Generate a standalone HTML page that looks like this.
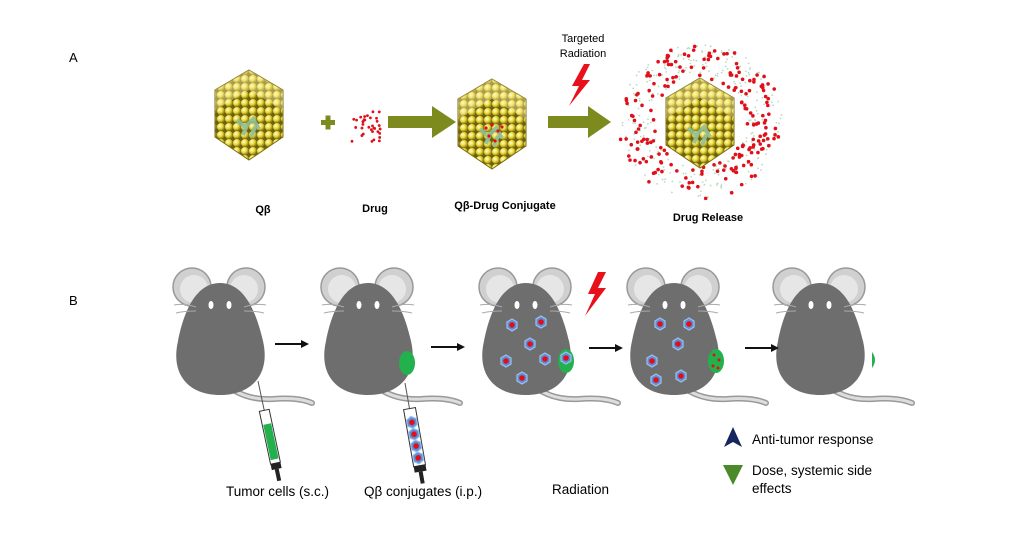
<!DOCTYPE html>
<html><head><meta charset="utf-8"><style>
html,body{margin:0;padding:0;background:#fff;}
svg{display:block;font-family:"Liberation Sans","DejaVu Sans",sans-serif;}
</style></head><body>
<svg id="s" width="1024" height="538" viewBox="0 0 1024 538" xmlns="http://www.w3.org/2000/svg">
<defs>
<radialGradient id="ball" cx="35%" cy="35%" r="65%"><stop offset="0" stop-color="#fffbd0"/><stop offset="0.5" stop-color="#eedd40"/><stop offset="1" stop-color="#8a7a10"/></radialGradient>
<pattern id="balls" width="8" height="8" patternUnits="userSpaceOnUse"><rect width="8" height="8" fill="#6b5f10"/><circle cx="4" cy="4" r="4" fill="url(#ball)"/></pattern>
<g id="virus">
<polygon points="0,-45 34,-25 34,22 0,45 -34,22 -34,-25" fill="url(#balls)" stroke="#7a6d10" stroke-width="1"/>
<polygon points="0,-45 34,-25 34,-5 0,-25 -34,-5 -34,-25" fill="#fff6b0" opacity="0.4"/>
<path d="M-12,5 L-4,12 L4,4 L10,14 M-6,20 L-2,10 M2,22 L6,12" stroke="#8fbf9a" stroke-width="4" fill="none" opacity="0.9"/>
</g>
<g id="mouse">
<path d="M40,95 Q60,120 95,118 Q120,116 134,122" stroke="#999" stroke-width="6" fill="none" stroke-linecap="round"/>
<path d="M40,95 Q60,120 95,118 Q120,116 134,122" stroke="#ddd" stroke-width="3" fill="none" stroke-linecap="round"/>
<circle cx="14" cy="6" r="19" fill="#d0d0d0" stroke="#999" stroke-width="1.5"/>
<circle cx="16" cy="8" r="14" fill="#e6e6e6"/>
<circle cx="68" cy="6" r="19" fill="#d0d0d0" stroke="#999" stroke-width="1.5"/>
<circle cx="66" cy="8" r="14" fill="#e6e6e6"/>
<path d="M42,2 C66,2 78,30 85,60 C93,95 72,114 42,114 C12,114 -8,95 0,60 C6,30 18,2 42,2 Z" fill="#6e6e6e"/>
<ellipse cx="33" cy="24" rx="2.5" ry="4" fill="#fff"/><ellipse cx="51" cy="24" rx="2.5" ry="4" fill="#fff"/>
<path d="M18,26 Q6,22 -4,24 M18,30 Q6,30 -2,32 M66,26 Q78,22 88,24 M66,30 Q78,30 86,32" stroke="#aaa" stroke-width="1" fill="none"/>
</g>
<g id="qb"><polygon points="0,-6 5,-3 5,3 0,6 -5,3 -5,-3" fill="#5b8fd6" stroke="#9cc0ee" stroke-width="1.2"/><circle cx="0" cy="0" r="2.8" fill="#e0101a"/></g>
<g id="arr"><line x1="0" y1="0" x2="28" y2="0" stroke="#111" stroke-width="2"/><polygon points="26,-4 34,0 26,4" fill="#111"/></g>
</defs>

<text x="69" y="62" font-size="13">A</text>
<text x="69" y="305" font-size="13">B</text>

<use href="#virus" x="249" y="115"/>
<rect x="321" y="120" width="14" height="5" fill="#7d8a1e"/><rect x="325.5" y="115.5" width="5" height="14" fill="#7d8a1e"/>
<g id="drug"></g>
<polygon points="388,116 432,116 432,106 456,122 432,138 432,128 388,128" fill="#7d8a1e"/>
<use href="#virus" x="492" y="124"/>
<g fill="#e0101a"><circle cx="486" cy="128" r="1.6"/><circle cx="492" cy="125" r="1.6"/><circle cx="498" cy="131" r="1.6"/><circle cx="489" cy="136" r="1.6"/><circle cx="495" cy="141" r="1.6"/><circle cx="502" cy="127" r="1.6"/></g>
<polygon points="548,116 588,116 588,106 611,122 588,138 588,128 548,128" fill="#7d8a1e"/>
<polygon points="584,64 572,86 579,86 569,106 590,80 582,80 590,64" fill="#e8101a"/>
<text x="583" y="42" font-size="11" text-anchor="middle">Targeted</text>
<text x="583" y="57" font-size="11" text-anchor="middle">Radiation</text>
<g id="cloud"></g>
<use href="#virus" x="700" y="123"/>

<g font-size="11" font-weight="bold" text-anchor="middle">
<text x="263" y="213">Qβ</text><text x="375" y="212">Drug</text><text x="505" y="209">Qβ-Drug Conjugate</text><text x="708" y="221">Drug Release</text>
</g>

<use href="#mouse" x="178" y="281"/>
<use href="#mouse" x="326" y="281"/>
<use href="#mouse" x="484" y="281"/>
<use href="#mouse" x="632" y="281"/>
<use href="#mouse" x="778" y="281"/>

<use href="#arr" x="275" y="344"/>
<use href="#arr" x="431" y="347"/>
<use href="#arr" x="589" y="348"/>
<use href="#arr" x="745" y="348"/>

<g transform="translate(258,381) rotate(-12)">
<line x1="0" y1="0" x2="0" y2="30" stroke="#555" stroke-width="1"/>
<rect x="-5" y="30" width="10" height="54" fill="#fff" stroke="#333" stroke-width="1"/>
<rect x="-4" y="44" width="8" height="36" fill="#22b14c"/>
<rect x="-5" y="84" width="10" height="6" fill="#222"/><rect x="-2" y="90" width="4" height="12" fill="#222"/>
</g>
<g transform="translate(405,383) rotate(-10)">
<line x1="0" y1="0" x2="0" y2="26" stroke="#555" stroke-width="1"/>
<rect x="-6" y="26" width="12" height="58" fill="#fff" stroke="#333" stroke-width="1"/>
<use href="#qb" x="0" y="40"/><use href="#qb" x="0" y="52"/><use href="#qb" x="0" y="64"/><use href="#qb" x="0" y="76"/>
<rect x="-6" y="84" width="12" height="6" fill="#222"/><rect x="-2" y="90" width="4" height="12" fill="#222"/>
</g>
<ellipse cx="407" cy="363" rx="8" ry="12" fill="#22b14c"/>

<polygon points="598,272 588,294 595,294 585,316 606,288 598,288 606,272" fill="#e8101a"/>
<use href="#qb" x="512" y="325"/><use href="#qb" x="530" y="344"/><use href="#qb" x="506" y="361"/><use href="#qb" x="545" y="359"/><use href="#qb" x="522" y="378"/><use href="#qb" x="541" y="322"/>
<ellipse cx="566" cy="361" rx="8" ry="12" fill="#22b14c"/><use href="#qb" x="566" y="358"/>

<use href="#qb" x="660" y="324"/><use href="#qb" x="689" y="324"/><use href="#qb" x="678" y="344"/><use href="#qb" x="652" y="361"/><use href="#qb" x="681" y="376"/><use href="#qb" x="656" y="380"/>
<ellipse cx="716" cy="361" rx="8" ry="12" fill="#22b14c"/>
<g fill="#e0101a"><circle cx="714" cy="355" r="1.5"/><circle cx="719" cy="360" r="1.5"/><circle cx="713" cy="366" r="1.5"/><circle cx="718" cy="368" r="1.5"/></g>
<path d="M872,352 Q878,360 872,368 Z" fill="#22b14c"/>

<g font-size="13.5">
<text x="226" y="496">Tumor cells (s.c.)</text>
<text x="364" y="496">Qβ conjugates (i.p.)</text>
<text x="552" y="494">Radiation</text>
<text x="752" y="444">Anti-tumor response</text>
<text x="752" y="475">Dose, systemic side</text>
<text x="752" y="493">effects</text>
</g>
<polygon points="733,427 742,447 733,442 724,447" fill="#15275e"/>
<polygon points="723,465 743,465 733,485" fill="#4a8a2a"/>

<script>
(function(){
var ns="http://www.w3.org/2000/svg";var seed=7;function r(){seed=(seed*16807)%2147483647;return seed/2147483647;}
function dot(g,x,y,rr,c){var e=document.createElementNS(ns,"circle");e.setAttribute("cx",x);e.setAttribute("cy",y);e.setAttribute("r",rr);e.setAttribute("fill",c);g.appendChild(e);}
var d=document.getElementById("drug");for(var i=0;i<34;i++)dot(d,352+r()*30,110+r()*34,1.4,"#e0101a");
var c=document.getElementById("cloud");
for(var i=0;i<260;i++){var a=r()*6.283,rad=48+r()*34;dot(c,700+Math.cos(a)*rad*1.0,122+Math.sin(a)*rad*0.95,0.9,"#b8dcc0");}
for(var i=0;i<200;i++){var a=r()*6.283,rad=46+r()*36;dot(c,700+Math.cos(a)*rad*1.0,122+Math.sin(a)*rad*0.95,1.8,"#e0101a");}
})();
</script>
</svg>
</body></html>
